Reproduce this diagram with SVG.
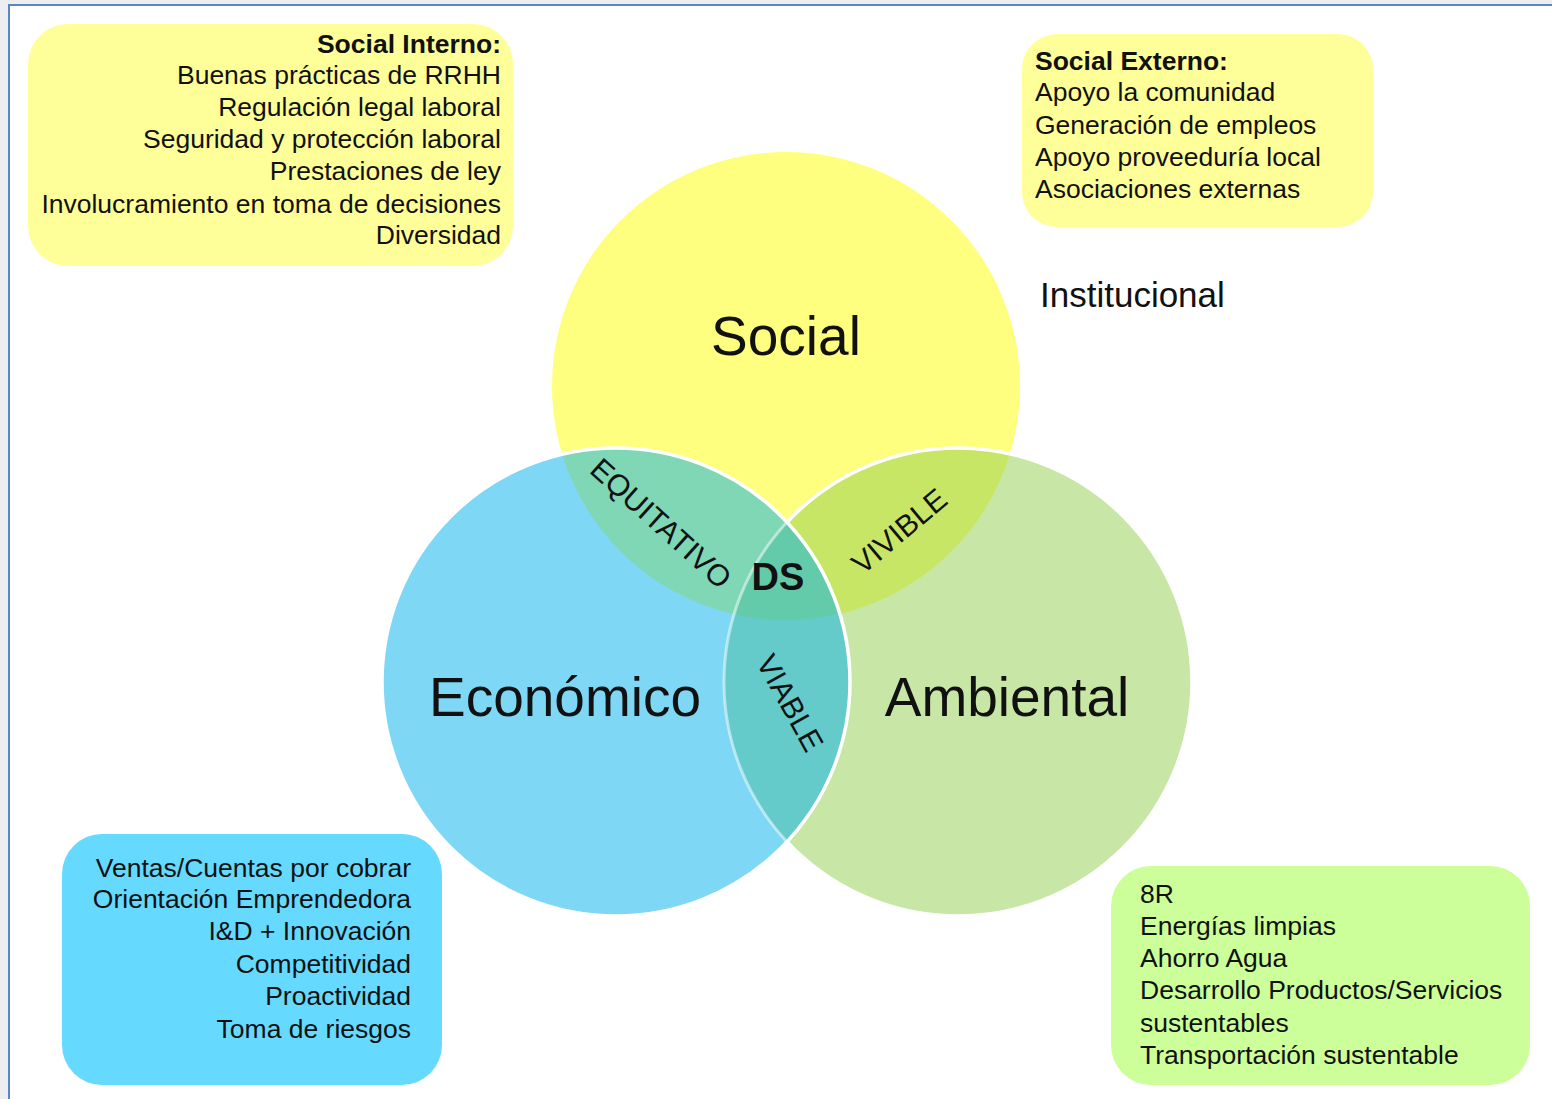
<svg xmlns="http://www.w3.org/2000/svg" width="1552" height="1099" viewBox="0 0 1552 1099">
  <style>
    .t { font-family: "Liberation Sans", Arial, sans-serif; fill: #111; }
    .box { font-size: 26.5px; }
    .big { font-size: 55px; }
    .lens { font-size: 30px; }
    .b { font-weight: bold; }
    .e { text-anchor: end; }
  </style>
  <defs>
    <clipPath id="cEco"><circle cx="616" cy="682" r="234"/></clipPath>
    <clipPath id="cNotEco"><path clip-rule="evenodd" d="M0 0H1552V1099H0Z M382 682a234 234 0 1 0 468 0a234 234 0 1 0 -468 0Z"/></clipPath>
  </defs>
  <rect x="0" y="0" width="1552" height="1099" fill="#eceef1"/>
  <rect x="9" y="5" width="1560" height="1110" fill="#ffffff" stroke="#5b86c6" stroke-width="2"/>

  <g id="venn">
    <g id="social">
      <circle cx="786" cy="386" r="234" fill="#ffff00" fill-opacity="0.5"/>
    </g>
    <g id="ambiental">
      <circle cx="958" cy="682" r="234" fill="#92cd4e" fill-opacity="0.5"/>
      <circle cx="958" cy="682" r="234" fill="none" stroke="#ffffff" stroke-width="3.5" clip-path="url(#cNotEco)"/>
    </g>
    <g id="economico">
      <circle cx="616" cy="682" r="234" fill="#00b0ed" fill-opacity="0.5"/>
      <g clip-path="url(#cEco)">
        <circle cx="958" cy="682" r="234" fill="none" stroke="#ffffff" stroke-opacity="0.5" stroke-width="3"/>
      </g>
      <circle cx="616" cy="682" r="234" fill="none" stroke="#ffffff" stroke-width="3.5"/>
    </g>
    <text class="t big" x="786" y="355" text-anchor="middle">Social</text>
    <text class="t big" x="565" y="716" text-anchor="middle">Económico</text>
    <text class="t big" x="1007" y="716" text-anchor="middle">Ambiental</text>
    <g id="ds"><text class="t b" x="778" y="590" font-size="38" text-anchor="middle">DS</text></g>
    <g id="equitativo"><text class="t lens" transform="translate(654,531) rotate(42)" text-anchor="middle">EQUITATIVO</text></g>
    <g id="vivible"><text class="t lens" transform="translate(906,539) rotate(-40)" text-anchor="middle">VIVIBLE</text></g>
    <g id="viable"><text class="t lens" transform="translate(781,708) rotate(61)" text-anchor="middle">VIABLE</text></g>
  </g>

  <text id="institucional" class="t" x="1040" y="307" font-size="35">Institucional</text>

  <g id="social-interno">
    <rect x="28" y="24" width="485" height="242" rx="40" fill="#ffff99"/>
    <text class="t box e b" x="501" y="53">Social Interno:</text>
    <text class="t box e" x="501" y="84">Buenas prácticas de RRHH</text>
    <text class="t box e" x="501" y="116">Regulación legal laboral</text>
    <text class="t box e" x="501" y="148">Seguridad y protección laboral</text>
    <text class="t box e" x="501" y="180">Prestaciones de ley</text>
    <text class="t box e" x="501" y="213">Involucramiento en toma de decisiones</text>
    <text class="t box e" x="501" y="244">Diversidad</text>
  </g>

  <g id="social-externo">
    <rect x="1022" y="34" width="351" height="193" rx="35" fill="#ffff99"/>
    <text class="t box b" x="1035" y="70">Social Externo:</text>
    <text class="t box" x="1035" y="101">Apoyo la comunidad</text>
    <text class="t box" x="1035" y="134">Generación de empleos</text>
    <text class="t box" x="1035" y="166">Apoyo proveeduría local</text>
    <text class="t box" x="1035" y="198">Asociaciones externas</text>
  </g>

  <g id="economico-box">
    <rect x="62" y="834" width="380" height="251" rx="40" fill="#66d9ff"/>
    <text class="t box e" x="411" y="877">Ventas/Cuentas por cobrar</text>
    <text class="t box e" x="411" y="908">Orientación Emprendedora</text>
    <text class="t box e" x="411" y="940">I&amp;D + Innovación</text>
    <text class="t box e" x="411" y="973">Competitividad</text>
    <text class="t box e" x="411" y="1005">Proactividad</text>
    <text class="t box e" x="411" y="1038">Toma de riesgos</text>
  </g>

  <g id="ambiental-box">
    <rect x="1111" y="866" width="419" height="219" rx="40" fill="#ccff99"/>
    <text class="t box" x="1140" y="903">8R</text>
    <text class="t box" x="1140" y="935">Energías limpias</text>
    <text class="t box" x="1140" y="967">Ahorro Agua</text>
    <text class="t box" x="1140" y="999">Desarrollo Productos/Servicios</text>
    <text class="t box" x="1140" y="1032">sustentables</text>
    <text class="t box" x="1140" y="1064">Transportación sustentable</text>
  </g>
  <g id="connectors"/>
</svg>
